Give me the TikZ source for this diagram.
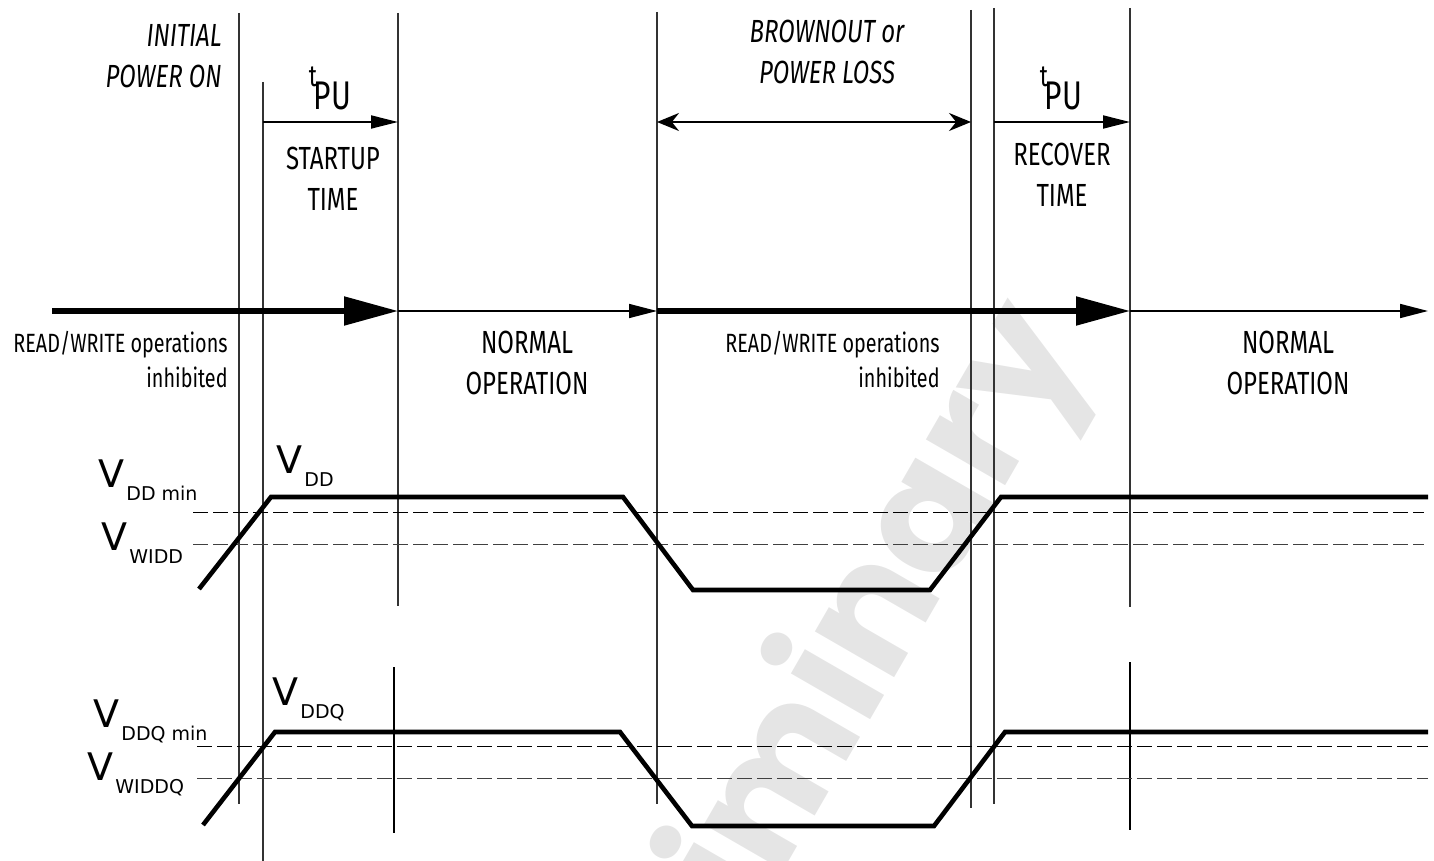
\documentclass[tikz,border=0pt]{standalone}
\usepackage{fontspec}
\setmainfont{Fira Sans}[FakeStretch=0.75]
\newfontfamily\vfont{DejaVu Sans}
\newfontfamily\wmfont{Poppins}
\usetikzlibrary{arrows.meta}

% V with a low-set subscript
\newcommand{\vsub}[1]{V\kern1pt\raisebox{-6.5pt}{\fontsize{9.5}{9.5}\selectfont #1}}
\newcommand{\tpu}{\raisebox{11.5pt}{\fontsize{15}{15}\selectfont t}\kern-1.5pt PU}

\begin{document}
\begin{tikzpicture}[x=0.5pt, y=-0.5pt,
  vline/.style={line width=0.6pt, black!80},
  tick/.style={line width=1.1pt},
  bus/.style={line width=2.6pt, -{Triangle[length=27pt,width=14pt]}},
  flow/.style={line width=0.8pt, -{Triangle[length=14pt,width=7pt]}},
  span/.style={line width=0.9pt, -{Triangle[length=13.5pt,width=6.5pt]}},
  loss/.style={line width=0.9pt, {Stealth[length=11pt,width=9pt]}-{Stealth[length=11pt,width=9pt]}},
  wave/.style={line width=2.3pt, line join=miter},
  lvl/.style={line width=0.5pt, dash pattern=on 7.5pt off 2.5pt},
  caps/.style={font=\fontsize{16}{20.5}\selectfont, align=center, inner sep=0pt},
  note/.style={font=\fontsize{13.2}{17.5}\selectfont, align=right, inner sep=0pt},
  vlab/.style={font=\vfont\fontsize{19}{19}\selectfont, anchor=base west, inner sep=0pt}]
\useasboundingbox (0,0) rectangle (1434,861);

% watermark
\node[rotate=60, text=black!10, font=\wmfont\bfseries\fontsize{82}{82}\selectfont] (wm) at (800,754) {preliminary};

% event lines
\coordinate (on-t) at (239,13);   \coordinate (on-b) at (239,804);
\coordinate (st-t) at (263,82);   \coordinate (st-b) at (263,861);
\coordinate (ok1-t) at (398,13);  \coordinate (ok1-b) at (398,606);
\coordinate (bo-t) at (657,12);   \coordinate (bo-b) at (657,804);
\coordinate (rc-t) at (971,10);   \coordinate (rc-b) at (971,808);
\coordinate (rs-t) at (994,8);    \coordinate (rs-b) at (994,804);
\coordinate (ok2-t) at (1130,8);  \coordinate (ok2-b) at (1130,607);
\coordinate (tk1-t) at (394,667); \coordinate (tk1-b) at (394,833);
\coordinate (tk2-t) at (1130,662);\coordinate (tk2-b) at (1130,830);
\foreach \l in {on,st,ok1,bo,rc,rs,ok2}
  \draw[vline] (\l-t) -- (\l-b);
\draw[tick] (tk1-t) -- (tk1-b);
\draw[tick] (tk2-t) -- (tk2-b);

% time spans
\coordinate (a1) at (263,122); \coordinate (a2) at (398,122);
\coordinate (b1) at (657,122); \coordinate (b2) at (971,122);
\coordinate (c1) at (994,122); \coordinate (c2) at (1130,122);
\draw[span] (a1) -- (a2);
\draw[loss] (b1) -- (b2);
\draw[span] (c1) -- (c2);

\node[anchor=base, font=\fontsize{20}{20}\selectfont, inner sep=0pt] (tpu1) at (330,110) {\tpu};
\node[anchor=base, font=\fontsize{20}{20}\selectfont, inner sep=0pt] (tpu2) at (1061,110) {\tpu};
\node[caps, font=\itshape\fontsize{16}{20.5}\selectfont, align=right, anchor=east] (init) at (222,56) {INITIAL\\POWER ON};
\node[caps, font=\itshape\fontsize{16}{20.5}\selectfont] (loss) at (827,52) {BROWNOUT or\\POWER LOSS};
\node[caps] (start) at (333,179) {STARTUP\\TIME};
\node[caps] (recov) at (1062,175) {RECOVER\\TIME};

% operation timeline
\coordinate (t0) at (52,311);  \coordinate (t1) at (398,311);
\coordinate (t2) at (657,311); \coordinate (t3) at (1130,311);
\coordinate (t4) at (1428,311);
\draw[bus] (t0) -- (t1);
\draw[flow] (t1) -- (t2);
\draw[bus] (t2) -- (t3);
\draw[flow] (t3) -- (t4);

\node[note, anchor=east] (inh1) at (228,360) {READ/WRITE operations\\inhibited};
\node[note, anchor=east] (inh2) at (940,360) {READ/WRITE operations\\inhibited};
\node[caps] (norm1) at (527,363) {NORMAL\\OPERATION};
\node[caps] (norm2) at (1288,363) {NORMAL\\OPERATION};

% VDD
\draw[lvl] (193,512) -- (1424,512);
\draw[lvl, black!75] (193,544) -- (1424,544);
\draw[wave] (199,589) -- (271,497) -- (623,497) -- (693,590) -- (930,590) -- (1001,497) -- (1428,497);
\node[vlab] (vddmin) at (98,487) {\vsub{DD min}};
\node[vlab] (vwidd) at (101,550) {\vsub{WIDD}};
\node[vlab] (vdd) at (276,473) {\vsub{DD}};

% VDDQ
\draw[lvl] (197,746) -- (1428,746);
\draw[lvl, black!75] (197,778) -- (1428,778);
\draw[wave] (203,825) -- (275,732) -- (620,732) -- (692,826) -- (934,826) -- (1005,732) -- (1428,732);
\node[vlab] (vddqmin) at (93,727) {\vsub{DDQ min}};
\node[vlab] (vwiddq) at (87,780) {\vsub{WIDDQ}};
\node[vlab] (vddq) at (272,705) {\vsub{DDQ}};
\end{tikzpicture}
\end{document}
